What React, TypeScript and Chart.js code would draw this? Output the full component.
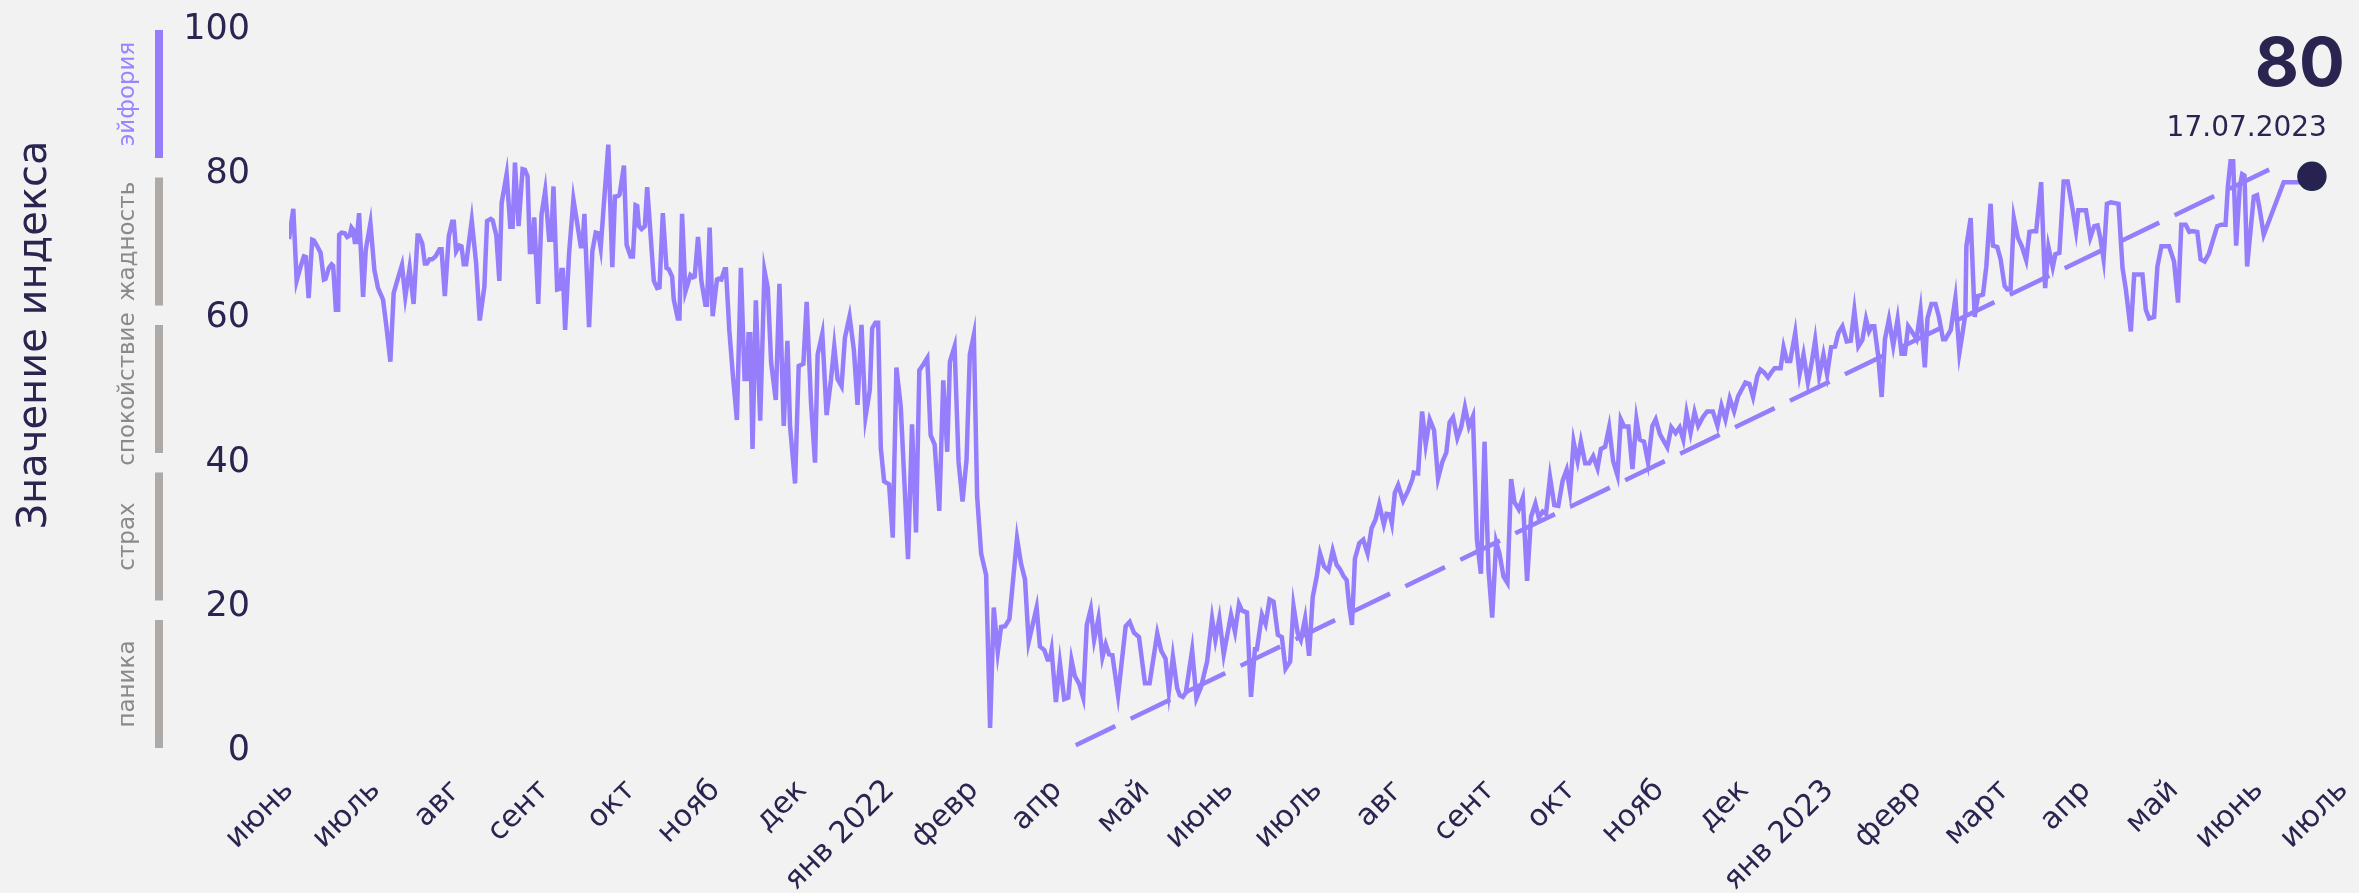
import React, { useEffect, useRef } from 'react';
import { Chart, registerables } from 'chart.js';

Chart.register(...registerables);

// trading-day index (x) and fear & greed index value (y)
const DAY_INDEX = [
  0, 1.08, 1.92, 2.92, 3.75, 4.25, 4.92, 5.83, 6.25, 7.08, 7.92, 8.75, 9.17, 10.0, 10.67, 11.08, 11.75, 12.33, 12.58, 13.17,
  14.0, 14.58, 15.25, 15.67, 16.08, 16.5, 16.92, 17.58, 18.58, 19.25, 20.42, 21.42, 22.33, 23.58, 24.42, 25.42, 26.25, 27.33, 28.33, 29.17,
  30.25, 31.25, 32.25, 32.58, 33.42, 34.08, 34.58, 35.25, 35.92, 36.75, 37.75, 38.25, 39.08, 40.08, 40.92, 41.33, 41.92, 42.75, 43.25, 43.83,
  44.42, 45.83, 46.92, 47.83, 49.0, 49.67, 50.58, 51.08, 52.0, 52.75, 53.33, 54.58, 55.5, 56.08, 56.67, 57.58, 58.58, 59.17, 59.83, 60.42,
  60.92, 61.5, 62.5, 63.33, 64.25, 65.25, 65.75, 66.33, 67.25, 67.92, 68.33, 68.67, 69.25, 70.25, 71.33, 72.33, 73.17, 73.58, 74.08, 75.25,
  76.08, 76.92, 77.58, 78.17, 78.75, 80.08, 81.08, 81.75, 82.58, 82.92, 84.0, 84.67, 85.67, 86.25, 86.92, 87.33, 87.75, 88.42, 89.25, 89.83,
  91.5, 92.33, 92.92, 93.75, 94.67, 95.25, 96.08, 96.5, 97.5, 97.92, 98.58, 99.42, 100.67, 101.33, 101.75, 102.58, 103.42, 104.42, 104.83, 105.5,
  106.25, 107.33, 107.75, 108.42, 109.25, 109.58,
  110.42, 111.25, 112.33, 113.33, 114.25, 114.83, 115.25, 115.67, 116.25, 117.08, 118.17, 119.25, 120.08, 120.92, 122.08, 123.0, 124.08, 125.0, 125.67, 126.92,
  127.83, 129.0, 129.83, 130.92, 131.92, 132.58, 133.75, 134.83, 135.92, 136.75, 137.58, 138.58, 139.42, 140.58, 141.67, 142.58, 143.58, 144.58, 145.67, 146.25,
  147.08, 147.75, 148.42, 149.25, 150.5, 151.42, 152.33, 153.42, 154.42, 155.25, 156.25, 157.25, 158.08, 159.08, 160.08, 160.92, 161.92, 163.08, 164.08, 165.08,
  165.75, 166.92, 167.92, 168.92, 169.92, 170.75, 171.75, 172.58, 173.58,
  174.83, 175.83, 176.75, 177.75,
  178.58, 179.58, 180.67, 182.58, 183.58, 184.58, 185.5, 186.5, 187.5, 188.33, 189.42, 190.25, 190.83, 191.25, 192.33, 193.33, 194.42, 195.42, 196.25, 197.08,
  198.17, 199.17, 200.08, 201.08, 201.92, 203.0, 204.0, 204.83, 205.67, 206.5, 207.92, 209.83, 210.83, 211.92, 213.17, 214.67, 215.83, 217.75, 218.75, 219.83,
  220.67, 221.67, 222.75, 223.42, 224.17, 224.92, 226.5, 227.58, 228.75, 230.25, 231.5, 232.33, 233.33, 234.42, 236.25, 237.25, 238.25, 239.0, 240.25, 241.25,
  242.25, 242.75, 244.0, 244.92, 245.92, 246.92, 248.0, 249.0, 249.92, 251.08, 251.92, 253.0, 253.75, 254.83, 255.83,
  256.75, 257.75, 258.58, 259.58, 260.67, 261.75, 262.75, 263.58, 264.42, 265.25, 265.92, 266.58, 267.33, 268.42, 269.42, 270.5, 271.5, 272.5, 273.42, 274.58,
  275.25, 276.08, 276.58, 277.33, 278.17, 279.42, 280.67, 281.75, 282.08, 283.17, 284.17, 285.08, 286.08, 287.17, 288.17, 289.25, 290.25, 291.08, 291.92, 293.0,
  294.0, 294.92, 295.92, 296.92, 297.92, 298.92, 299.83, 300.83, 301.75, 302.75, 303.58, 304.58, 305.58, 306.5, 307.33, 308.42, 309.42, 310.5, 311.5, 312.58,
  313.42, 314.42, 315.25, 316.25, 317.33, 318.33, 319.42, 320.42, 321.25, 322.17, 323.17, 324.0, 325.08, 326.08, 327.08, 328.17, 329.0, 330.08, 331.08, 332.08,
  333.17,
  334.0, 334.83, 335.92, 336.92, 337.92, 338.75, 339.83, 340.83, 341.92, 342.75, 343.83, 345.67, 346.67, 347.75, 348.75, 349.67, 350.5, 351.5, 352.5, 353.42,
  354.58, 355.67, 357.08, 358.25, 359.25, 360.25, 361.33, 362.42, 363.42, 365.25, 366.25, 367.17, 368.25, 369.0, 369.92, 370.92, 371.75, 372.58, 374.08, 374.83,
  375.67, 376.5, 377.75, 378.83, 379.83, 380.92, 381.92, 382.75, 383.75, 384.83, 385.75, 386.75, 387.75, 388.58, 389.58, 390.67, 391.67, 392.58, 393.58, 394.58,
  395.5, 396.25, 396.92, 397.58, 398.58, 399.42, 400.25, 401.25, 402.33, 403.42, 404.42, 405.25, 406.08, 407.17, 408.17, 409.17, 410.25,
  410.92, 411.92, 412.92, 413.75, 414.83, 415.42, 416.75, 417.92, 418.92, 419.58, 420.42, 420.67, 421.75, 422.75, 423.58, 424.83, 425.67, 426.75, 427.33, 428.42,
  429.25, 430.25, 430.92, 431.75, 432.58, 433.58, 434.58, 435.67, 436.5, 437.33, 438.17, 439.42, 440.42, 441.25, 442.33, 443.0, 444.0, 445.08, 446.08, 447.33,
  448.17, 448.75, 450.67, 451.75, 452.75, 453.58, 454.25, 455.08, 455.92, 456.92, 458.83, 459.83, 460.67, 461.92, 462.75, 464.83, 465.67, 466.5, 467.75, 468.58,
  469.58, 471.5, 472.75, 473.75, 474.58, 475.67, 476.58, 477.33, 478.58, 479.42, 480.42, 481.5, 483.58, 484.58, 485.67, 486.25, 486.92, 487.58, 488.33, 489.25,
  489.83, 490.42, 491.08, 492.75, 493.58, 494.25, 495.25, 500.25, 501.92, 505.25, 507.33,
];

const INDEX_VALUES = [
  71.0, 75.2, 65.2, 67.2, 68.6, 68.5, 62.8, 70.9, 70.8, 70.0, 69.1, 65.4, 65.5, 67.0, 67.5, 67.3, 61.2, 61.2, 71.6, 71.9,
  71.8, 71.3, 71.5, 72.6, 72.3, 70.6, 70.6, 74.6, 63.0, 69.5, 73.2, 66.7, 64.2, 62.6, 58.9, 54.0, 63.5, 65.6, 67.4, 63.0,
  67.0, 62.0, 71.5, 71.5, 70.4, 67.6, 67.6, 68.2, 68.2, 68.6, 69.6, 69.6, 63.1, 71.4, 73.4, 73.4, 69.3, 70.1, 70.0, 67.5,
  67.5, 73.6, 67.7, 59.7, 64.4, 73.5, 73.8, 73.6, 71.5, 65.2, 76.0, 80.0, 72.7, 72.7, 81.6, 72.8, 80.7, 80.6, 79.7, 69.2,
  69.2, 74.0, 62.0, 74.4, 77.7, 70.9, 70.9, 78.3, 64.0, 64.1, 66.7, 66.7, 58.4, 69.1, 76.5, 73.0, 70.0, 70.0, 74.5, 58.8,
  69.3, 71.9, 71.8, 69.8, 74.2, 84.1, 67.1, 76.9, 77.0, 77.2, 81.2, 70.2, 68.6, 68.6, 75.7, 75.6, 72.8, 72.4, 72.8, 78.2,
  65.2, 64.2, 64.3, 74.6, 67.0, 66.8, 65.8, 62.6, 60.0, 60.0, 74.5, 63.7, 66.0, 65.7, 65.8, 71.3, 65.2, 61.9, 61.9, 72.6,
  60.3, 65.4, 65.5, 65.4, 66.8, 66.8,
  58.4, 52.6, 45.9, 67.0, 51.6, 51.6, 57.8, 57.8, 41.9, 62.5, 45.8, 66.6, 64.2, 53.8, 48.7, 64.8, 45.1, 56.9, 45.0, 37.1,
  53.4, 53.7, 62.3, 48.2, 40.0, 55.0, 57.9, 46.6, 51.5, 56.1, 51.6, 50.6, 57.3, 60.3, 55.6, 48.0, 59.1, 46.3, 50.1, 58.6,
  59.4, 59.4, 42.0, 37.4, 37.0, 29.6, 53.2, 47.8, 36.4, 26.6, 45.3, 30.3, 52.8, 53.6, 54.5, 43.8, 42.5, 33.3, 51.4, 41.5,
  54.0, 56.1, 40.1, 34.6, 40.4, 55.0, 57.7, 35.3, 27.4,
  24.4, 3.2, 19.9, 13.7,
  17.2, 17.3, 18.3, 29.5, 26.0, 23.8, 15.1, 17.5, 19.9, 14.5, 14.0, 12.7, 12.7, 14.0, 6.8, 12.2, 7.2, 7.4, 12.6, 10.4,
  9.3, 7.4, 17.5, 19.7, 15.4, 18.4, 13.0, 14.8, 13.4, 13.3, 7.7, 17.3, 17.9, 16.4, 15.8, 9.4, 9.4, 16.3, 13.9, 12.8,
  8.2, 13.1, 8.7, 7.7, 7.5, 8.1, 14.0, 7.3, 8.9, 12.4, 18.4, 15.4, 18.4, 13.4, 18.9, 16.5, 20.4, 19.5, 19.2, 7.5,
  14.1, 14.1, 18.9, 17.6, 21.0, 20.7, 16.1, 15.8, 11.4, 12.4, 20.1, 16.3, 15.4, 18.4, 13.2,
  21.4, 24.2, 27.4, 25.6, 25.0, 27.8, 25.8, 25.2, 24.3, 23.7, 20.0, 17.5, 26.7, 28.8, 29.3, 27.4, 30.9, 32.1, 34.2, 31.4,
  32.9, 32.8, 31.6, 35.8, 36.9, 34.7, 36.1, 37.7, 38.6, 38.5, 47.1, 42.5, 46.0, 44.5, 37.8, 40.1, 41.4, 45.6, 46.3, 43.4,
  45.0, 47.7, 45.0, 46.4, 29.3, 24.6, 42.9, 25.1, 18.5, 29.0, 27.4, 24.2, 23.3, 37.7, 34.5, 33.5, 35.1, 23.6, 32.5, 34.3,
  32.4, 33.2, 32.9, 38.0, 34.1, 34.0, 37.5, 39.0, 36.1, 42.9, 40.2, 42.9, 39.9, 39.9, 40.9, 39.2, 41.9, 42.2, 44.9, 40.2,
  38.2,
  46.0, 45.0, 45.0, 39.1, 46.0, 43.2, 42.9, 40.0, 45.1, 46.0, 43.9, 42.1, 44.9, 44.1, 44.9, 43.2, 46.9, 44.1, 47.0, 45.1,
  46.3, 47.1, 47.1, 45.1, 47.9, 46.0, 48.9, 47.1, 49.2, 51.1, 50.9, 49.1, 52.0, 52.9, 52.5, 51.8, 52.5, 53.1, 53.1, 56.0,
  54.1, 54.1, 58.0, 52.2, 55.0, 51.1, 54.0, 57.0, 52.0, 55.0, 52.2, 56.0, 56.1, 58.0, 58.9, 56.8, 56.9, 61.1, 56.1, 57.0,
  59.9, 58.2, 58.9, 58.9, 54.7, 49.1, 57.1, 59.9, 56.2, 59.9, 55.1, 55.1, 58.9, 58.0, 57.1, 61.1, 53.2,
  60.0, 62.0, 62.0, 60.3, 57.1, 57.1, 58.4, 62.8, 55.2, 57.5, 60.6, 70.0, 73.9, 60.2, 63.1, 63.3, 67.2, 75.9, 70.1, 69.9,
  68.2, 64.5, 64.0, 64.0, 73.9, 71.2, 70.0, 68.1, 72.0, 72.1, 72.1, 78.9, 64.2, 69.9, 67.1, 68.9, 69.1, 79.0, 79.0, 75.1,
  72.1, 75.0, 75.0, 71.2, 72.8, 72.9, 71.2, 68.2, 75.9, 76.1, 75.9, 67.0, 64.0, 58.2, 66.1, 66.1, 61.2, 60.0, 60.2, 67.2,
  70.0, 70.0, 67.9, 62.2, 73.0, 73.0, 72.0, 72.1, 72.0, 68.2, 67.9, 69.0, 72.8, 73.0, 73.0, 78.3, 81.8, 81.8, 70.1, 78.3,
  80.0, 79.8, 67.2, 76.9, 77.1, 75.1, 71.6, 78.9, 78.9, 78.9, 79.7,
];

const TREND_DAY = [197.3, 497.6];
const TREND_VALUES = [0.8, 80.9];

const MONTH_TICK_DAY = [
  0, 21.75, 42, 64, 85.75, 107, 128.75, 150.75, 171.75, 192.75, 214.75, 235.75, 258,
  278.25, 301.25, 321.5, 343.75, 365, 386.25, 408.25, 430.25, 450.75, 472.75, 494, 515.25,
];
const MONTH_TICK_LABELS = [
  'июнь', 'июль', 'авг', 'сент', 'окт', 'нояб', 'дек', 'янв 2022', 'февр', 'апр', 'май', 'июнь', 'июль',
  'авг', 'сент', 'окт', 'нояб', 'дек', 'янв 2023', 'февр', 'март', 'апр', 'май', 'июнь', 'июль',
];

const ZONE_LABELS = ['паника', 'страх', 'спокойствие', 'жадность', 'эйфория'];
const ZONE_FROM = [0, 20, 40, 60, 80];
const ZONE_TO = [20, 40, 60, 80, 100];
const LAST_DATE = '17.07.2023';
const AXIS_TITLE = 'Значение индекса';

const NAVY = '#2a2550';
const PURPLE = '#967dfc';
const GRAY_BAR = '#adaaa7';
const GRAY_TEXT = '#8c8987';
const FONT = '"DejaVu Sans", sans-serif';

const decorPlugin = {
  id: 'decor',
  afterDraw(chart: any) {
    const ctx = chart.ctx;
    const y = chart.scales.y;
    ctx.save();

    // axis title
    ctx.save();
    ctx.translate(36, 335);
    ctx.rotate(-Math.PI / 2);
    ctx.font = `40px ${FONT}`;
    ctx.fillStyle = NAVY;
    ctx.textAlign = 'center';
    ctx.textBaseline = 'middle';
    ctx.fillText(AXIS_TITLE, 0, 0);
    ctx.restore();

    // zone bars + labels
    const topPx = y.getPixelForValue(100);
    const botPx = y.getPixelForValue(0) - 3;
    const gap = 19.5;
    const h = (botPx - topPx - 4 * gap) / 5;
    for (let k = 0; k < ZONE_LABELS.length; k++) {
      const idxFromTop = 4 - Math.round(ZONE_FROM[k] / 20);
      const t = topPx + idxFromTop * (h + gap);
      const isTop = ZONE_TO[k] === 100;
      ctx.fillStyle = isTop ? PURPLE : GRAY_BAR;
      ctx.fillRect(155, t, 8, h);
      ctx.save();
      ctx.translate(128, t + h / 2);
      ctx.rotate(-Math.PI / 2);
      ctx.font = `23px ${FONT}`;
      ctx.fillStyle = isTop ? '#9a84ff' : GRAY_TEXT;
      ctx.textAlign = 'center';
      ctx.textBaseline = 'middle';
      ctx.fillText(ZONE_LABELS[k], 0, 0);
      ctx.restore();
    }

    // last value annotation
    const last = INDEX_VALUES.length - 1;
    const px = chart.scales.x.getPixelForValue(DAY_INDEX[last]);
    const py = y.getPixelForValue(INDEX_VALUES[last]);
    ctx.fillStyle = NAVY;
    ctx.textAlign = 'right';
    ctx.textBaseline = 'alphabetic';
    ctx.font = `bold 68px Inter, ${FONT}`;
    ctx.fillText(String(Math.round(INDEX_VALUES[last])), px + 33, py - 90);
    ctx.font = `28px ${FONT}`;
    ctx.fillText(LAST_DATE, px + 15, py - 40);
    ctx.restore();
  },
};

export default function App() {
  const ref = useRef<HTMLCanvasElement | null>(null);

  useEffect(() => {
    document.body.style.margin = '0';
    document.body.style.background = '#f2f2f2';
    const canvas = ref.current;
    if (!canvas) return;
    const lineData = DAY_INDEX.map((d, i) => ({ x: d, y: INDEX_VALUES[i] }));
    const trendData = TREND_DAY.map((d, i) => ({ x: d, y: TREND_VALUES[i] }));
    const last = INDEX_VALUES.length - 1;
    const chart = new Chart(canvas, {
      type: 'line',
      data: {
        datasets: [
          {
            data: [{ x: DAY_INDEX[last], y: INDEX_VALUES[last] }],
            showLine: false,
            pointRadius: 14,
            pointBackgroundColor: '#27224f',
            pointBorderColor: '#1d2a48',
            pointBorderWidth: 1.5,
            order: 0,
          },
          {
            data: lineData,
            borderColor: PURPLE,
            borderWidth: 4.5,
            pointRadius: 0,
            tension: 0,
            order: 1,
          },
          {
            data: trendData,
            borderColor: PURPLE,
            borderWidth: 4.5,
            borderDash: [44, 17],
            pointRadius: 0,
            tension: 0,
            order: 2,
          },
        ],
      },
      options: {
        animation: false,
        responsive: true,
        maintainAspectRatio: false,
        layout: { padding: { top: 30, right: 9, left: 0, bottom: 0 } },
        plugins: { legend: { display: false }, tooltip: { enabled: false } },
        scales: {
          x: {
            type: 'linear',
            min: 0,
            max: MONTH_TICK_DAY[MONTH_TICK_DAY.length - 1],
            grid: { display: false, drawTicks: false },
            border: { display: false },
            afterBuildTicks: (axis: any) => {
              axis.ticks = MONTH_TICK_DAY.map((v) => ({ value: v }));
            },
            afterFit: (axis: any) => {
              axis.height = 142;
              axis.paddingLeft = 0;
              axis.paddingRight = 0;
            },
            ticks: {
              autoSkip: false,
              minRotation: 45,
              maxRotation: 45,
              padding: 22,
              color: NAVY,
              font: { family: 'DejaVu Sans', size: 30 },
              callback: (_v: any, i: number) => MONTH_TICK_LABELS[i],
            },
          },
          y: {
            min: 0,
            max: 100,
            grid: { display: false, drawTicks: false },
            border: { display: false },
            afterFit: (axis: any) => {
              axis.width = 289;
              axis.paddingTop = 0;
              axis.paddingBottom = 0;
            },
            ticks: {
              stepSize: 20,
              padding: 39,
              color: NAVY,
              font: { family: 'DejaVu Sans', size: 35 },
            },
          },
        },
      },
      plugins: [decorPlugin],
    });
    return () => chart.destroy();
  }, []);

  return (
    <div style={{ position: 'fixed', left: 0, top: 0, width: '2359px', height: '893px', background: '#f2f2f2' }}>
      <canvas ref={ref} />
    </div>
  );
}
